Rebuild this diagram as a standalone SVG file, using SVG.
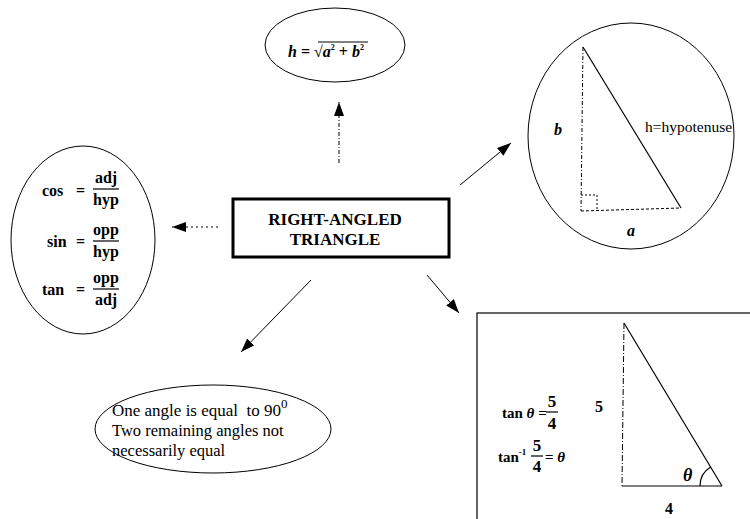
<svg xmlns="http://www.w3.org/2000/svg" width="750" height="519" viewBox="0 0 750 519">
<defs>
<style>
.s{fill:none;stroke:#000;stroke-width:1}
.t{font-family:"Liberation Serif","Times New Roman",serif;fill:#000}
.b{font-weight:bold}
.i{font-style:italic}
.pre{white-space:pre}
</style>
<marker id="ah" viewBox="0 0 14 10" refX="14" refY="5" markerWidth="14" markerHeight="10" orient="auto" markerUnits="userSpaceOnUse"><path d="M0,0 L14,5 L0,10 z" fill="#000"/></marker>
</defs>
<rect width="750" height="519" fill="#fff"/>

<g id="connectors" stroke="#000" stroke-width="1" fill="none">
<line x1="339" y1="163" x2="339" y2="102" stroke-dasharray="4,2,1,2" marker-end="url(#ah)"/>
<line x1="218" y1="227" x2="172" y2="227" stroke-dasharray="2,3" marker-end="url(#ah)"/>
<line x1="460" y1="185" x2="511" y2="143" marker-end="url(#ah)"/>
<line x1="311" y1="280" x2="241" y2="352" marker-end="url(#ah)"/>
<line x1="427" y1="275" x2="459" y2="313" marker-end="url(#ah)"/>
</g>

<g id="center">
<rect x="233" y="199" width="216" height="58" fill="#fff" stroke="#000" stroke-width="3"/>
<text class="t b" x="335" y="225" font-size="17" text-anchor="middle">RIGHT-ANGLED</text>
<text class="t b" x="335" y="245" font-size="17" text-anchor="middle">TRIANGLE</text>
</g>

<g id="hypotenuse-formula">
<ellipse class="s" cx="335" cy="45" rx="70" ry="37"/>
<text class="t b" x="288" y="57" font-size="16"><tspan class="i">h</tspan> = √<tspan class="i">a</tspan><tspan font-size="8" dy="-7">2</tspan><tspan dy="7"> + </tspan><tspan class="i">b</tspan><tspan font-size="8" dy="-7">2</tspan></text>
<line x1="318" y1="42" x2="368" y2="42" stroke="#000" stroke-width="1"/>
</g>

<g id="ratios">
<ellipse class="s" cx="83" cy="240" rx="72" ry="94"/>
<g class="t b" font-size="16">
<text x="42" y="196">cos</text><text x="76" y="196">=</text>
<text x="106" y="183" text-anchor="middle">adj</text><text x="106" y="205" text-anchor="middle">hyp</text>
<text x="47" y="247">sin</text><text x="76" y="247">=</text>
<text x="106" y="235" text-anchor="middle">opp</text><text x="106" y="257" text-anchor="middle">hyp</text>
<text x="42" y="295">tan</text><text x="76" y="295">=</text>
<text x="106" y="283" text-anchor="middle">opp</text><text x="106" y="305" text-anchor="middle">adj</text>
</g>
<line x1="93" y1="189" x2="119" y2="189" stroke="#000" stroke-width="1.2"/>
<line x1="93" y1="241" x2="119" y2="241" stroke="#000" stroke-width="1.2"/>
<line x1="93" y1="289" x2="119" y2="289" stroke="#000" stroke-width="1.2"/>
</g>

<g id="triangle-circle">
<ellipse class="s" cx="631" cy="136" rx="103" ry="113"/>
<line x1="583" y1="47" x2="581" y2="211" stroke="#000" stroke-width="1" stroke-dasharray="4,2,1,2"/>
<line x1="581" y1="211" x2="681" y2="208" stroke="#000" stroke-width="1" stroke-dasharray="3,2"/>
<line x1="583" y1="47" x2="681" y2="208" stroke="#000" stroke-width="1.2"/>
<path d="M581,195 H597 V211" fill="none" stroke="#000" stroke-width="1" stroke-dasharray="2,2"/>
<text class="t b i" x="554" y="135" font-size="16">b</text>
<text class="t i b" x="627" y="236" font-size="16">a</text>
<text class="t" x="645" y="132" font-size="15.5">h=hypotenuse</text>
</g>

<g id="angle-facts">
<ellipse class="s" cx="213" cy="429" rx="118" ry="44"/>
<text class="t pre" x="112" y="416" font-size="17">One angle is equal  to 90<tspan font-size="13" dy="-8">0</tspan></text>
<text class="t" x="112" y="436" font-size="16.5">Two remaining angles not</text>
<text class="t" x="112" y="456" font-size="16.5">necessarily equal</text>
</g>

<g id="example">
<rect x="477" y="313" width="300" height="250" fill="none" stroke="#000" stroke-width="1.2"/>
<line x1="624" y1="323" x2="622" y2="486" stroke="#000" stroke-width="1" stroke-dasharray="6,2,1,2"/>
<line x1="622" y1="486" x2="722" y2="486" stroke="#000" stroke-width="1.2"/>
<line x1="624" y1="323" x2="722" y2="486" stroke="#000" stroke-width="1.2"/>
<path d="M700,486 A22,22 0 0 1 710.7,467.1" fill="none" stroke="#000" stroke-width="1.2"/>
<text class="t b i" x="683" y="481" font-size="18">θ</text>
<text class="t b" x="665" y="514" font-size="16">4</text>
<text class="t b" x="595" y="412" font-size="16">5</text>
<g class="t b" font-size="15">
<text x="502" y="418">tan <tspan class="i">θ</tspan> =</text>
<text x="552" y="407" text-anchor="middle" font-size="17">5</text><text x="552" y="429" text-anchor="middle" font-size="17">4</text>
<text x="498" y="462">tan<tspan font-size="9" dy="-7">-1</tspan></text>
<text x="537" y="451" text-anchor="middle" font-size="17">5</text><text x="537" y="472" text-anchor="middle" font-size="17">4</text>
<text x="545" y="462">= <tspan class="i">θ</tspan></text>
</g>
<line x1="546" y1="412" x2="558" y2="412" stroke="#000" stroke-width="1.2"/>
<line x1="531" y1="456" x2="543" y2="456" stroke="#000" stroke-width="1.2"/>
</g>
</svg>
